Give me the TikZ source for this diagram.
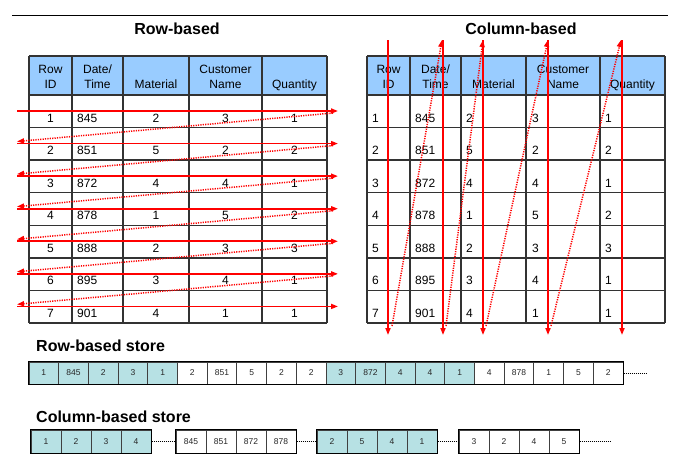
\documentclass[tikz,border=0pt]{standalone}
\usepackage{fontspec}
\setmainfont{Liberation Sans}
\usetikzlibrary{arrows.meta,calc}
\definecolor{hdrblue}{RGB}{153,204,255}
\definecolor{storeteal}{RGB}{183,225,228}
\begin{document}
\begin{tikzpicture}[x=1pt,y=-1pt,
  gridline/.style={draw=black!80, line width=1.3pt},
  hdrtxt/.style={font=\fontsize{12}{14}\selectfont, inner sep=0pt, anchor=base},
  celltxt/.style={font=\fontsize{12}{14}\selectfont, inner sep=0pt},
  rarrow/.style={red, line width=1.6pt, -{Triangle[length=7pt,width=5pt]}},
  rdots/.style={red, line width=1.5pt, dash pattern=on 1.2pt off 1.2pt, -{Triangle[length=7pt,width=5pt]}},
  titletxt/.style={font=\bfseries\fontsize{16}{18}\selectfont, inner sep=0pt},
  scell/.style={draw=black!75, line width=1pt, minimum width=29.7pt, minimum height=22pt, inner sep=0pt, font=\fontsize{8.5}{10}\selectfont, text=black!85},
  sbox/.style={draw=black, line width=1.8pt},
  sdots/.style={black, line width=0.9pt, dash pattern=on 1pt off 1pt},
]
\useasboundingbox (0,0) rectangle (683,471);
\fill[white] (0,0) rectangle (683,471);

% top rule
\coordinate (rule0) at (12,15);
\coordinate (rule1) at (668,15);
\draw[line width=1pt] (rule0) -- (rule1);

% titles
\node[titletxt] (tRow) at (177,29) {Row-based};
\node[titletxt] (tCol) at (521,29) {Column-based};

% ---------- tables: header fill and grid ----------
\fill[hdrblue] (29,56) rectangle (327,95);
\fill[hdrblue] (367,56) rectangle (665,95);
\foreach \x in {29,72,123,189,262,327} \draw[gridline] (\x,56) -- (\x,323);
\foreach \x in {367,410,461,526,600,665} \draw[gridline] (\x,56) -- (\x,323);
\draw[gridline] (29,56) -- (327,56);
\draw[gridline] (367,56) -- (665,56);
\foreach \k in {0,...,7} {
  \draw[gridline] (29,{95+32.57*\k}) -- (327,{95+32.57*\k});
  \draw[gridline] (367,{95+32.57*\k}) -- (665,{95+32.57*\k});
}

% headers left
\node[hdrtxt] (hL1a) at (50.5,73.5) {Row};
\node[hdrtxt] (hL1b) at (50.5,88.5) {ID};
\node[hdrtxt] (hL2a) at (97.5,73.5) {Date/};
\node[hdrtxt] (hL2b) at (97.5,88.5) {Time};
\node[hdrtxt] (hL3b) at (156,88.5) {Material};
\node[hdrtxt] (hL4a) at (225.5,73.5) {Customer};
\node[hdrtxt] (hL4b) at (225.5,88.5) {Name};
\node[hdrtxt] (hL5b) at (294.5,88.5) {Quantity};
% headers right
\node[hdrtxt] (hR1a) at (388.5,73.5) {Row};
\node[hdrtxt] (hR1b) at (388.5,88.5) {ID};
\node[hdrtxt] (hR2a) at (435.5,73.5) {Date/};
\node[hdrtxt] (hR2b) at (435.5,88.5) {Time};
\node[hdrtxt] (hR3b) at (493.5,88.5) {Material};
\node[hdrtxt] (hR4a) at (563,73.5) {Customer};
\node[hdrtxt] (hR4b) at (563,88.5) {Name};
\node[hdrtxt] (hR5b) at (632.5,88.5) {Quantity};

% body
\foreach \r/\dt/\m/\cn/\q in {1/845/2/3/1, 2/851/5/2/2, 3/872/4/4/1, 4/878/1/5/2, 5/888/2/3/3, 6/895/3/4/1, 7/901/4/1/1} {
  \pgfmathsetmacro\ty{118+32.57*(\r-1)}
  \node[celltxt] (L\r-1) at (50.5,\ty) {\r};
  \node[celltxt,anchor=west] (L\r-2) at (77,\ty) {\dt};
  \node[celltxt] (L\r-3) at (156,\ty) {\m};
  \node[celltxt] (L\r-4) at (225.5,\ty) {\cn};
  \node[celltxt] (L\r-5) at (294.5,\ty) {\q};
  \node[celltxt,anchor=west] (R\r-1) at (372,\ty) {\r};
  \node[celltxt,anchor=west] (R\r-2) at (415,\ty) {\dt};
  \node[celltxt,anchor=west] (R\r-3) at (466,\ty) {\m};
  \node[celltxt,anchor=west] (R\r-4) at (532,\ty) {\cn};
  \node[celltxt,anchor=west] (R\r-5) at (605,\ty) {\q};
}

% ---------- row-based arrows ----------
\foreach \k in {0,...,6} {
  \pgfmathsetmacro\ya{111+32.57*\k}
  \coordinate (la\k) at (17,\ya);
  \coordinate (lb\k) at (338,\ya);
  \draw[rarrow] (la\k) -- (lb\k);
}
\foreach \k in {0,...,5} {
  \pgfmathsetmacro\ya{113+32.57*\k}
  \pgfmathsetmacro\yb{141.5+32.57*\k}
  \coordinate (lda\k) at (333,\ya);
  \coordinate (ldb\k) at (17,\yb);
  \draw[rdots] (lda\k) -- (ldb\k);
}

% ---------- column-based arrows ----------
\foreach \x [count=\i] in {388,443,483,548,622} {
  \coordinate (ca\i) at (\x,40);
  \coordinate (cb\i) at (\x,335);
  \draw[rarrow] (ca\i) -- (cb\i);
}
\foreach \xa/\xb [count=\i] in {392/442, 446/483, 486/548, 551/621} {
  \coordinate (cda\i) at (\xa,326);
  \coordinate (cdb\i) at (\xb,40);
  \draw[rdots] (cda\i) -- (cdb\i);
}

% ---------- row-based store ----------
\node[titletxt,anchor=west] (tRS) at (36,346) {Row-based store};
\foreach \v [count=\i] in {1,845,2,3,1,2,851,5,2,2,3,872,4,4,1,4,878,1,5,2} {
  \pgfmathtruncatemacro\g{mod(int((\i-1)/5),2)}
  \ifnum\g=0 \def\fc{storeteal}\else\def\fc{white}\fi
  \node[scell, fill=\fc] (rs\i) at ({29+29.7*(\i-0.5)},373) {\v};
}
\draw[sbox] (rs1.north west) rectangle (rs20.south east);
\coordinate (rsend) at (647,373);
\draw[sdots] (rs20.east) -- (rsend);

% ---------- column-based store ----------
\node[titletxt,anchor=west] (tCS) at (36,417) {Column-based store};
\foreach \gx/\fc/\vals [count=\g] in {31/storeteal/{1,2,3,4}, 176/white/{845,851,872,878}, 317/storeteal/{2,5,4,1}, 459/white/{3,2,4,5}} {
  \foreach \v [count=\i] in \vals {
    \node[scell, fill=\fc, minimum width=30pt, minimum height=23pt] (cs\g-\i) at ({\gx+30*(\i-0.5)},441.5) {\v};
  }
  \draw[sbox] (cs\g-1.north west) rectangle (cs\g-4.south east);
}
\draw[sdots] (cs1-4.east) -- (cs2-1.west);
\draw[sdots] (cs2-4.east) -- (cs3-1.west);
\draw[sdots] (cs3-4.east) -- (cs4-1.west);
\coordinate (csend) at (610,441.5);
\draw[sdots] (cs4-4.east) -- (csend);
\end{tikzpicture}
\end{document}
